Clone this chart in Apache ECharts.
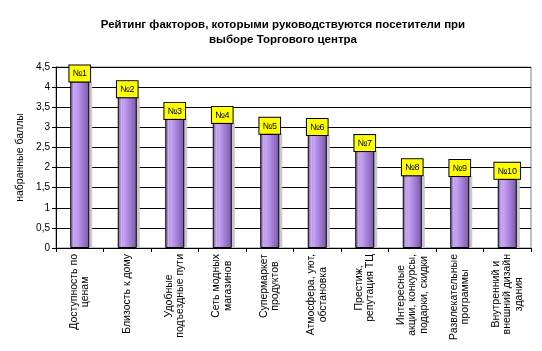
<!DOCTYPE html>
<html>
<head>
<meta charset="utf-8">
<script src="https://cdn.jsdelivr.net/npm/echarts@6/dist/echarts.min.js"></script>
<style>
  html, body { margin: 0; padding: 0; background: #fff; }
  #main { width: 542px; height: 351px; }
</style>
</head>
<body>
<div id="main"></div>
<script>
var categories = [
    'Доступность по\nценам',
    'Близость к дому',
    'Удобные\nподъездные пути',
    'Сеть модных\nмагазинов',
    'Супермаркет\nпродуктов',
    'Атмосфера, уют,\nобстановка',
    'Престиж,\nрепутация ТЦ',
    'Интересные\nакции, конкурсы,\nподарки, скидки',
    'Развлекательные\nпрограммы',
    'Внутренний и\nвнешний дизайн\nздания'
];
var scores = [4.14, 3.75, 3.21, 3.11, 2.84, 2.81, 2.41, 1.81, 1.79, 1.72];
var ranks = ['№1', '№2', '№3', '№4', '№5', '№6', '№7', '№8', '№9', '№10'];
var yTicks = [0, 0.5, 1, 1.5, 2, 2.5, 3, 3.5, 4, 4.5];

var myChart = echarts.init(document.getElementById('main'));
var font = 'Arial, "Liberation Sans", sans-serif';

var option = {
    backgroundColor: '#fff',
    animation: false,
    title: {
        text: 'Рейтинг факторов, которыми руководствуются посетители при\nвыборе Торгового центра',
        left: 278,
        top: 12,
        textAlign: 'center',
        textStyle: {
            fontFamily: font,
            fontSize: 11.5,
            fontWeight: 'bold',
            color: '#000',
            lineHeight: 15
        }
    },
    grid: {
        left: 56,
        right: 11,
        top: 67,
        bottom: 103,
        show: true,
        borderColor: '#808080',
        borderWidth: 1
    },
    xAxis: {
        type: 'category',
        data: categories,
        axisLine: { lineStyle: { color: '#000', width: 1 } },
        axisTick: { show: true, length: 4, lineStyle: { color: '#000' } },
        axisLabel: {
            interval: 0,
            rotate: 90,
            margin: 6,
            formatter: function(v) {
                return v.split('\n').map(function(l) { return '{c|' + l + '}'; }).join('\n');
            },
            rich: {
                c: {
                    align: 'center',
                    fontFamily: font,
                    fontSize: 10.5,
                    color: '#000',
                    lineHeight: 11.5
                }
            }
        }
    },
    yAxis: {
        type: 'value',
        min: yTicks[0],
        max: yTicks[yTicks.length - 1],
        interval: 0.5,
        name: 'набранные баллы',
        nameLocation: 'middle',
        nameGap: 23,
        nameTextStyle: { fontFamily: font, fontSize: 10.5, color: '#000' },
        axisLine: { show: true, lineStyle: { color: '#000', width: 1 } },
        axisTick: { show: true, length: 4, lineStyle: { color: '#000' } },
        axisLabel: {
            margin: 6,
            fontFamily: font,
            fontSize: 10,
            color: '#000',
            formatter: function(v) { return String(v).replace('.', ','); }
        },
        splitLine: { show: true, lineStyle: { color: '#000', width: 1 } }
    },
    series: [{
        type: 'bar',
        data: scores,
        barWidth: 19,
        itemStyle: {
            color: new echarts.graphic.LinearGradient(0, 0, 1, 0, [
                { offset: 0, color: '#8c6cc4' },
                { offset: 0.3, color: '#c9a2fb' },
                { offset: 1, color: '#7658a8' }
            ]),
            borderColor: '#000',
            borderWidth: 1,
            shadowColor: '#c8c8c8',
            shadowOffsetX: 3,
            shadowOffsetY: 0,
            shadowBlur: 0
        },
        label: {
            show: true,
            position: 'top',
            distance: 0,
            formatter: function(p) { return ranks[p.dataIndex]; },
            fontFamily: font,
            fontSize: 9,
            color: '#000',
            backgroundColor: '#ffff00',
            borderColor: '#000',
            borderWidth: 1,
            padding: [4, 3, 3, 3]
        }
    }]
};
myChart.setOption(option);
</script>
</body>
</html>
